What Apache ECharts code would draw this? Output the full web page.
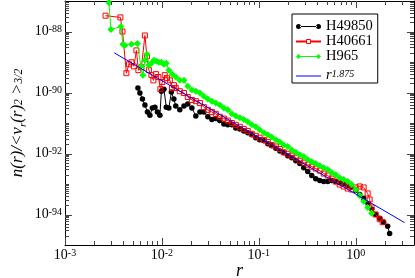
<!DOCTYPE html>
<html><head><meta charset="utf-8">
<script src="https://cdn.jsdelivr.net/npm/echarts@6/dist/echarts.min.js"></script>
<style>html,body{margin:0;padding:0;background:#fff}#c{width:415px;height:278px}</style>
</head><body><div id="c"></div>
<script>
const FONT = 'Liberation Serif';

// axis ranges (values) and labelled decades (exponents)
const xRange = [1e-3, 4];
const yRange = [1e-95, 1e-87];
const xLabelExp = [-3, -2, -1, 0];
const yLabelExp = [-94, -92, -90, -88];

// H49850 (black circles)
const h49850R = [0.00566,0.00593,0.0063,0.00668,0.00709,0.00752,0.00798,0.00847,0.00899,0.00954,0.00988,0.0105,0.0111,0.0118,0.01253,0.0133,
 0.0139,0.0153,0.0169,0.0185,0.0204,0.0224,0.0247,0.0271,0.0298,0.0328,0.0360,0.0396,0.0436,0.0479,0.0527,0.0579,0.0637,0.0700,0.0770,0.0847,0.0931,
 0.102,0.113,0.124,0.136,0.150,0.165,0.181,0.199,0.219,0.241,0.265,0.291,0.320,0.352,0.387,0.426,0.468,0.515,0.566,0.622,0.684,0.752,0.827,0.910,
 1.000,1.100,1.209,1.330,1.462,1.608,1.768,1.944,2.138,2.24];
const h49850N = [1.4e-90,9.6e-91,6.1e-91,3.9e-91,2.3e-91,1.8e-91,3.1e-91,3.3e-91,2.3e-91,1.8e-91,1.1e-90,1.29e-90,3.3e-91,3.1e-91,1.03e-90,6.1e-91,
 3.6e-91,2.7e-91,3.6e-91,4.2e-91,3.1e-91,1.7e-91,2.3e-91,2.3e-91,1.6e-91,1.3e-91,1.4e-91,1.2e-91,9.3e-92,8.7e-92,8.7e-92,6.9e-92,6.4e-92,5.5e-92,4.8e-92,4.1e-92,3.3e-92,
 2.8e-92,2.6e-92,2.1e-92,1.8e-92,1.5e-92,1.2e-92,1.06e-92,8.5e-93,7.3e-93,5.8e-93,4.7e-93,3.4e-93,2.55e-93,1.9e-93,1.5e-93,1.3e-93,1.2e-93,1.2e-93,1.3e-93,1.2e-93,1.1e-93,1.04e-93,8.9e-94,7.7e-94,
 6.1e-94,4.55e-94,3.4e-94,2.3e-94,1.5e-94,1.0e-94,7.5e-95,5.6e-95,4.1e-95,2.4e-95];

// H40661 (red hollow squares)
const h40661R = [0.00262,0.00373,0.00392,0.0043,0.00457,0.00485,0.00514,0.00546,0.00572,0.00615,0.00668,0.0070,0.00734,0.0078,0.00817,0.00867,0.0092,0.00965,0.0101,0.0107,0.0113,0.0121,0.0127,0.0133,
 0.0139,0.0153,0.0169,0.0185,0.0204,0.0224,0.0247,0.0271,0.0298,0.0328,0.0360,0.0396,0.0436,0.0479,0.0527,0.0579,0.0637,0.0700,0.0770,0.0847,0.0931,
 0.102,0.113,0.124,0.136,0.150,0.165,0.181,0.199,0.219,0.241,0.265,0.291,0.320,0.352,0.387,0.426,0.468,0.515,0.566,0.622,0.684,0.752,0.827,0.910,
 1.000,1.100,1.209,1.330,1.394,1.462,1.608,1.768,1.90];
const h40661N = [3.3e-88,2.9e-88,1.0e-88,4.3e-90,8.4e-90,9.8e-90,7.2e-90,2.4e-89,5.4e-90,6.7e-90,7.4e-89,1.53e-89,5.4e-90,3.7e-90,2.5e-90,4.0e-90,3.2e-90,1.29e-90,2.2e-90,3.7e-90,2.95e-90,2.5e-90,1.4e-90,1.74e-90,
 1.4e-90,1.1e-90,9.6e-91,7.1e-91,5.7e-91,5.2e-91,4.5e-91,3.3e-91,2.7e-91,2.3e-91,2.0e-91,1.6e-91,1.4e-91,1.2e-91,1.0e-91,8.7e-92,7.5e-92,6.4e-92,5.5e-92,4.4e-92,3.8e-92,
 3.3e-92,2.8e-92,2.4e-92,1.9e-92,1.7e-92,1.4e-92,1.1e-92,9.8e-93,8.5e-93,7.3e-93,5.8e-93,5.0e-93,4.3e-93,3.7e-93,3.2e-93,2.75e-93,2.2e-93,1.9e-93,1.5e-93,1.2e-93,9.6e-94,8.3e-94,7.1e-94,6.6e-94,
 7.7e-94,8.3e-94,7.7e-94,4.9e-94,3.1e-94,1.7e-94,1.0e-94,7.0e-95,5.6e-95];

// H965 (green diamonds)
const h965R = [0.00284,0.00298,0.00378,0.00396,0.00415,0.00485,0.00559,0.00607,0.00637,0.00668,0.0070,0.00734,0.0078,0.00827,0.00878,0.00931,0.00988,0.0105,0.0111,0.0118,0.0128,
 0.0139,0.0153,0.0169,0.0185,0.0204,0.0224,0.0247,0.0271,0.0298,0.0328,0.0360,0.0396,0.0436,0.0479,0.0527,0.0579,0.0637,0.0700,0.0770,0.0847,0.0931,
 0.102,0.113,0.124,0.136,0.150,0.165,0.181,0.199,0.219,0.241,0.265,0.291,0.320,0.352,0.387,0.426,0.468,0.515,0.566,0.622,0.684,0.752,0.827,0.910,
 1.000,1.100,1.209,1.330,1.462];
const h965N = [8.8e-88,1.16e-88,1.46e-88,3.8e-89,3.5e-89,3.8e-89,4.07e-89,7.2e-90,3.7e-90,1.14e-89,1.78e-89,7.8e-90,9.1e-90,1.14e-89,1.05e-89,9.8e-90,9.8e-90,8.4e-90,9.1e-90,5.37e-90,3.97e-90,
 3.2e-90,2.5e-90,2.5e-90,1.6e-90,1.2e-90,1.1e-90,9.6e-91,7.6e-91,6.1e-91,5.2e-91,4.5e-91,3.9e-91,3.1e-91,2.7e-91,2.0e-91,1.7e-91,1.5e-91,1.3e-91,1.1e-91,8.7e-92,7.5e-92,
 6.0e-92,4.8e-92,4.1e-92,3.5e-92,2.8e-92,2.4e-92,1.9e-92,1.7e-92,1.3e-92,1.1e-92,9.1e-93,7.9e-93,6.3e-93,5.4e-93,4.7e-93,4.0e-93,3.4e-93,3.0e-93,2.4e-93,2.0e-93,1.6e-93,1.4e-93,1.2e-93,9.6e-94,
 6.6e-94,4.2e-94,2.7e-94,1.7e-94,1.1e-94];

// power-law reference line r^1.875 (end points)
const fitR = [0.00322, 3.2];
const fitN = [2.0e-89, 5.4e-95];

const L = Math.log10;
const pairs = (R, N) => R.map((r, i) => [L(r), L(N[i])]);
const xMin = L(xRange[0]), xMax = L(xRange[1]);
const yMin = L(yRange[0]), yMax = L(yRange[1]);

// tick marks (decades and 2..9 sub-divisions), drawn on all four sides
const tickData = [];
for (let e = Math.floor(xMin); e <= Math.ceil(xMax); e++) {
  for (let k = 1; k <= 9; k++) {
    const v = e + L(k);
    if (v < xMin - 1e-9 || v > xMax - 1e-6) continue;
    tickData.push([v, yMin, k === 1 && xLabelExp.includes(e) ? 1 : 0, 0]);
  }
}
for (let e = Math.floor(yMin); e < Math.ceil(yMax); e++) {
  for (let k = 1; k <= 9; k++) {
    const v = e + L(k);
    if (v <= yMin + 1e-9 || v >= yMax - 1e-9) continue;
    tickData.push([xMin, v, k === 1 && yLabelExp.includes(e) ? 1 : 0, 1]);
  }
}
function renderTick(params, api) {
  const cs = params.coordSys;
  const p = api.coord([api.value(0), api.value(1)]);
  const len = api.value(2) ? 7 : 4;
  const style = { stroke: '#444', lineWidth: 1 };
  let segs;
  if (api.value(3) === 0) {
    const x = Math.round(p[0]) + 0.5;
    segs = [[x, cs.y + cs.height, x, cs.y + cs.height - len], [x, cs.y, x, cs.y + len]];
  } else {
    const y = Math.round(p[1]) + 0.5;
    segs = [[cs.x, y, cs.x + len, y], [cs.x + cs.width, y, cs.x + cs.width - len, y]];
  }
  return { type: 'group', children: segs.map(s => ({ type: 'line', shape: { x1: s[0], y1: s[1], x2: s[2], y2: s[3] }, style })) };
}

const isInt = v => Math.abs(v - Math.round(v)) < 1e-6;
const powRich = {
  b: { fontFamily: FONT, fontSize: 14, lineHeight: 14, verticalAlign: 'bottom', padding: [5, 0, 0, 0], color: '#000' },
  s: { fontFamily: FONT, fontSize: 10, lineHeight: 10, verticalAlign: 'top', color: '#000' }
};
const frameLine = { show: true, onZero: false, lineStyle: { color: '#000', width: 1 } };
const hiddenAxis = { show: true, axisLine: frameLine, axisTick: { show: false }, axisLabel: { show: false }, splitLine: { show: false } };

const iconBlack = 'path://M0,3a2.5,2.5 0 1,0 5,0a2.5,2.5 0 1,0 -5,0zM20,3a2.5,2.5 0 1,0 5,0a2.5,2.5 0 1,0 -5,0zM4,2.6h17v0.8h-17z';
const iconGreen = 'path://M2.5,0.5l2.5,2.5l-2.5,2.5l-2.5,-2.5zM22.5,0.5l2.5,2.5l-2.5,2.5l-2.5,-2.5zM4,2.6h17v0.8h-17z';
const iconBlue = 'path://M0,0.5h0.01v5h-0.01zM0,2.5h25v1h-25z';

const chart = echarts.init(document.getElementById('c'), null, { renderer: 'canvas' });
chart.setOption({
  animation: false,
  backgroundColor: '#fff',
  grid: { left: 65, right: 1, top: 1, bottom: 33, containLabel: false, outerBoundsMode: 'none' },
  legend: {
    orient: 'vertical', left: 292, top: 14, padding: [5, 5, 0, 3], itemGap: 0,
    itemWidth: 25, itemHeight: 5, selectedMode: false,
    backgroundColor: '#fff', borderColor: '#000', borderWidth: 1,
    textStyle: { fontFamily: FONT, fontSize: 14.5, lineHeight: 14, color: '#000',
      rich: {
        i: { fontFamily: FONT, fontSize: 14.5, fontStyle: 'italic', lineHeight: 14, verticalAlign: 'bottom', padding: [4, 0, 0, 0], color: '#000' },
        s: { fontFamily: FONT, fontSize: 10, fontStyle: 'italic', lineHeight: 10, verticalAlign: 'top', color: '#000' }
      } },
    formatter: n => n === 'r^1.875' ? '{i|r}{s|1.875}' : n,
    data: [
      { name: 'H49850', icon: iconBlack, itemStyle: { color: '#000', borderWidth: 0 } },
      { name: 'H40661', itemStyle: { color: '#fff', borderColor: '#ff0000', borderWidth: 1 } },
      { name: 'H965', icon: iconGreen, itemStyle: { color: '#0f0', borderWidth: 0 } },
      { name: 'r^1.875', icon: iconBlue, itemStyle: { color: '#00f', borderWidth: 0 } }
    ]
  },
  xAxis: [
    { type: 'value', min: xMin, max: xMax, interval: 1, position: 'bottom',
      name: 'r', nameLocation: 'middle', nameGap: 17, nameMoveOverlap: false,
      nameTextStyle: { fontFamily: FONT, fontSize: 18, fontStyle: 'italic', color: '#000', lineHeight: 18 },
      axisLine: frameLine, axisTick: { show: false }, splitLine: { show: false },
      axisLabel: { margin: 3, hideOverlap: false, formatter: v => isInt(v) && xLabelExp.includes(Math.round(v)) ? '{b|10}{s|' + Math.round(v) + '}' : '', rich: powRich } },
    Object.assign({ type: 'value', min: xMin, max: xMax, position: 'top' }, hiddenAxis)
  ],
  yAxis: [
    { type: 'value', min: yMin, max: yMax, interval: 1, position: 'left',
      name: '{i|n(r)/<v}{sb|r}{i|(r)}{sp|2}{i| >}{sp|3/2}', nameLocation: 'middle', nameGap: 36, nameRotate: 90, nameMoveOverlap: false,
      nameTextStyle: { fontFamily: FONT, fontSize: 16, fontStyle: 'italic', color: '#000',
        rich: {
          i: { fontFamily: FONT, fontSize: 17, fontStyle: 'italic', lineHeight: 16, verticalAlign: 'bottom', padding: [6, 0, 3, 0], color: '#000' },
          sb: { fontFamily: FONT, fontSize: 11, fontStyle: 'italic', lineHeight: 11, verticalAlign: 'bottom', color: '#000' },
          sp: { fontFamily: FONT, fontSize: 11.5, fontStyle: 'italic', lineHeight: 11, verticalAlign: 'top', color: '#000' }
        } },
      axisLine: frameLine, axisTick: { show: false }, splitLine: { show: false },
      axisLabel: { margin: 3, hideOverlap: false, formatter: v => isInt(v) && yLabelExp.includes(Math.round(v)) ? '{b|10}{s|' + Math.round(v) + '}' : '', rich: powRich } },
    Object.assign({ type: 'value', min: yMin, max: yMax, position: 'right' }, hiddenAxis)
  ],
  series: [
    { name: 'H49850', type: 'line', data: pairs(h49850R, h49850N), symbol: 'circle', symbolSize: 5.5,
      lineStyle: { color: '#000', width: 1 }, itemStyle: { color: '#000' }, z: 2 },
    { name: 'H40661', type: 'line', data: pairs(h40661R, h40661N), symbol: 'rect', symbolSize: 5,
      lineStyle: { color: '#ff0000', width: 1 }, itemStyle: { color: 'rgba(255,255,255,0)', borderColor: '#ff0000', borderWidth: 1 }, z: 3 },
    { name: 'H965', type: 'line', data: pairs(h965R, h965N), symbol: 'diamond', symbolSize: [7, 7],
      lineStyle: { color: '#0f0', width: 1 }, itemStyle: { color: '#0f0' }, z: 4 },
    { name: 'r^1.875', type: 'line', data: pairs(fitR, fitN), symbol: 'none',
      lineStyle: { color: '#00f', width: 1 }, itemStyle: { color: '#00f' }, z: 5 },
    { name: 'ticks', type: 'custom', data: tickData, renderItem: renderTick, clip: false, silent: true, z: 6 }
  ]
});
</script>
</body></html>
